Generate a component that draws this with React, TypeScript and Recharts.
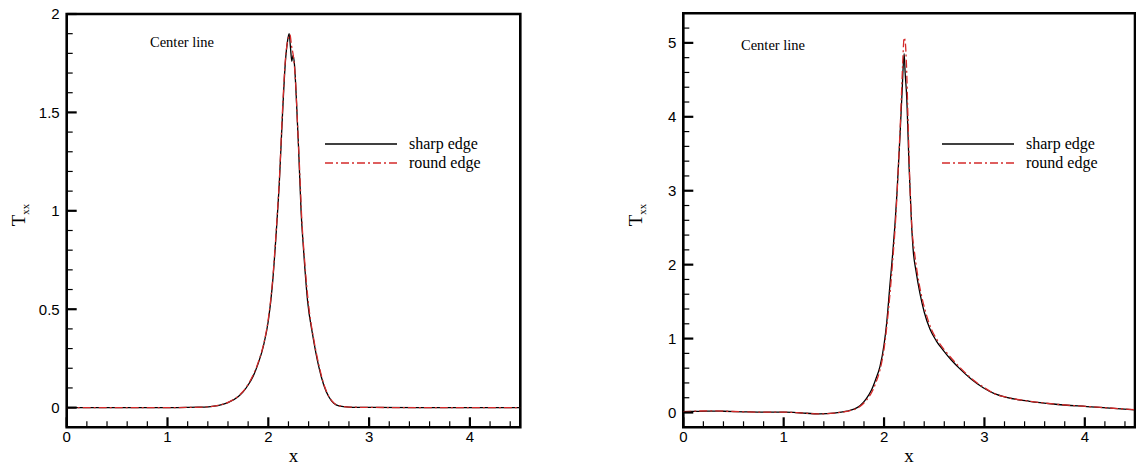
import React from 'react';
import { LineChart, Line, XAxis, YAxis, ReferenceArea, Legend } from 'recharts';

// ---------- data ----------
const leftSharpX = [0, 0.5, 1.0, 1.2, 1.3, 1.4, 1.5, 1.6, 1.7, 1.75, 1.8, 1.85, 1.9, 1.95, 2.0, 2.04, 2.08, 2.11, 2.14, 2.17, 2.19, 2.207, 2.22, 2.233, 2.245, 2.26, 2.28, 2.3, 2.325, 2.35, 2.39, 2.44, 2.5, 2.55, 2.6, 2.65, 2.7, 2.8, 3.0, 3.5, 4.0, 4.5];
const leftSharpY = [0, 0, 0, 0.001, 0.002, 0.004, 0.01, 0.025, 0.055, 0.08, 0.115, 0.16, 0.225, 0.31, 0.44, 0.62, 0.9, 1.15, 1.48, 1.76, 1.86, 1.9, 1.83, 1.76, 1.79, 1.74, 1.55, 1.32, 1.0, 0.8, 0.54, 0.37, 0.21, 0.115, 0.055, 0.022, 0.009, 0.003, 0.001, 0, 0, 0];

const leftRoundX = [0, 0.5, 1.0, 1.2, 1.4, 1.5, 1.6, 1.7, 1.8, 1.9, 1.95, 2.0, 2.04, 2.08, 2.11, 2.14, 2.17, 2.2, 2.215, 2.23, 2.25, 2.27, 2.29, 2.31, 2.33, 2.36, 2.4, 2.45, 2.5, 2.55, 2.6, 2.65, 2.7, 2.8, 3.0, 3.5, 4.0, 4.5];
const leftRoundY = [0, 0, 0, 0.001, 0.004, 0.011, 0.027, 0.057, 0.118, 0.23, 0.315, 0.45, 0.63, 0.91, 1.16, 1.5, 1.77, 1.88, 1.895, 1.84, 1.78, 1.66, 1.44, 1.22, 0.98, 0.75, 0.52, 0.35, 0.22, 0.12, 0.058, 0.024, 0.01, 0.003, 0.001, 0, 0, 0];

const rightSharpX = [0, 0.1, 0.25, 0.4, 0.6, 0.8, 1.0, 1.1, 1.2, 1.36, 1.5, 1.63, 1.7, 1.76, 1.82, 1.876, 1.92, 1.959, 2.0, 2.026, 2.06, 2.086, 2.109, 2.13, 2.159, 2.18, 2.2, 2.21, 2.225, 2.25, 2.275, 2.29, 2.32, 2.357, 2.4, 2.457, 2.52, 2.59, 2.67, 2.756, 2.87, 2.988, 3.1, 3.22, 3.45, 3.685, 4.02, 4.25, 4.5];
const rightSharpY = [0.01, 0.015, 0.02, 0.017, 0.01, 0.004, 0.006, 0.002, -0.008, -0.018, -0.008, 0.019, 0.045, 0.09, 0.18, 0.307, 0.46, 0.62, 0.92, 1.21, 1.75, 2.15, 2.55, 3.0, 3.75, 4.35, 4.854, 4.6, 4.28, 3.3, 2.52, 2.2, 1.9, 1.615, 1.36, 1.13, 0.97, 0.84, 0.71, 0.59, 0.45, 0.335, 0.255, 0.205, 0.152, 0.115, 0.081, 0.06, 0.037];

const rightRoundX = [0, 0.25, 0.5, 0.75, 1.0, 1.2, 1.36, 1.5, 1.63, 1.7, 1.76, 1.82, 1.876, 1.92, 1.96, 2.0, 2.03, 2.06, 2.09, 2.115, 2.14, 2.165, 2.185, 2.2, 2.212, 2.222, 2.24, 2.26, 2.28, 2.3, 2.33, 2.37, 2.41, 2.47, 2.53, 2.6, 2.68, 2.77, 2.88, 3.0, 3.1, 3.22, 3.45, 3.685, 4.02, 4.25, 4.5];
const rightRoundY = [0.012, 0.022, 0.014, 0.005, 0.006, -0.009, -0.019, -0.009, 0.016, 0.04, 0.08, 0.16, 0.27, 0.41, 0.58, 0.86, 1.2, 1.62, 2.12, 2.6, 3.25, 4.0, 4.7, 5.07, 5.0, 4.75, 3.9, 3.0, 2.45, 2.2, 1.9, 1.6, 1.38, 1.13, 0.98, 0.85, 0.72, 0.59, 0.45, 0.335, 0.256, 0.206, 0.153, 0.116, 0.082, 0.061, 0.038];

const xTicks = Array.from({ length: 23 }, (_, i) => Math.round(i * 2) / 10); // 0..4.4 step 0.2
const leftYTicks = Array.from({ length: 21 }, (_, i) => i / 10); // 0..2 step 0.1
const rightYTicks = Array.from({ length: 28 }, (_, i) => Math.round(i * 2) / 10); // 0..5.4 step 0.2

const seriesNames = ['sharp edge', 'round edge'];
const annotationText = 'Center line';

const toPts = (xs: number[], ys: number[]) => xs.map((x, i) => ({ x, y: ys[i] }));

const SANS = '"Liberation Sans", Arial, sans-serif';
const SERIF = '"Liberation Serif", "Times New Roman", serif';
const RED = '#d42a2a';
const DASH = '8 3 2 3';

const isMult = (v: number, step: number) => Math.abs(v / step - Math.round(v / step)) < 1e-6;

const makeXTick = () => (props: any) => {
  const { x, y, payload } = props;
  const v = payload.value;
  const major = isMult(v, 1);
  return (
    <g>
      <line x1={x} x2={x} y1={y} y2={y - (major ? 10 : 6)} stroke="#000" strokeWidth={major ? 2.2 : 1.2} />
      {major && (
        <text x={x} y={y + 15} textAnchor="middle" fontFamily={SANS} fontSize={15} fill="#000">
          {String(v)}
        </text>
      )}
    </g>
  );
};

const makeYTick = (step: number) => (props: any) => {
  const { x, y, payload } = props;
  const v = payload.value;
  const major = isMult(v, step);
  return (
    <g>
      <line x1={x} x2={x + (major ? 10 : 6)} y1={y} y2={y} stroke="#000" strokeWidth={major ? 2.2 : 1.2} />
      {major && (
        <text x={x - 7} y={y} dy="0.36em" textAnchor="end" fontFamily={SANS} fontSize={15} fill="#000">
          {String(v)}
        </text>
      )}
    </g>
  );
};

type PanelProps = {
  left: number;
  sharp: { x: number; y: number }[];
  round: { x: number; y: number }[];
  yDomain: [number, number];
  yTicks: number[];
  yMajor: number;
  margin: { top: number; right: number; bottom: number; left: number };
  ann: { cx: number; cy: number; lx: number; ly: number; tx: number; plotCx: number };
};

const W = 568;
const H = 465;

const Panel = ({ left, sharp, round, yDomain, yTicks, yMajor, margin, ann }: PanelProps) => {
  const renderAnn = () => (
    <svg width={W} height={H} style={{ position: 'absolute', left: 0, top: 0, overflow: 'visible' }}>
      <text x={ann.cx} y={ann.cy} fontFamily={SERIF} fontSize={14.5} fill="#000">{annotationText}</text>
      <line x1={ann.lx} x2={ann.lx + 72} y1={ann.ly} y2={ann.ly} stroke="#000" strokeWidth={1.3} />
      <text x={ann.tx} y={ann.ly + 5} fontFamily={SERIF} fontSize={16} fill="#000">{seriesNames[0]}</text>
      <line x1={ann.lx} x2={ann.lx + 72} y1={ann.ly + 19} y2={ann.ly + 19} stroke={RED} strokeWidth={1.3} strokeDasharray={DASH} />
      <text x={ann.tx} y={ann.ly + 24} fontFamily={SERIF} fontSize={16} fill="#000">{seriesNames[1]}</text>
      <text x={ann.plotCx} y={462} textAnchor="middle" fontFamily={SERIF} fontSize={19} fill="#000">x</text>
    </svg>
  );
  const yLabel = (lx: number) => (props: any) => (
    <text x={lx} y={215} transform={`rotate(-90, ${lx}, 215)`} textAnchor="middle" fontFamily={SERIF} fontSize={19} fill="#000">
      T<tspan fontSize={11} dy={4}>xx</tspan>
    </text>
  );
  return (
    <div style={{ position: 'absolute', left, top: 0, width: W, height: H }}>
      <LineChart width={W} height={H} margin={margin}>
        <XAxis
          type="number"
          dataKey="x"
          domain={[0, 4.5]}
          allowDataOverflow
          ticks={xTicks}
          interval={0}
          tickSize={0}
          tickMargin={0}
          axisLine={false}
          tickLine={false}
          tick={makeXTick()}
          height={30}
        />
        <YAxis
          type="number"
          dataKey="y"
          domain={yDomain}
          allowDataOverflow
          ticks={yTicks}
          interval={0}
          tickSize={0}
          tickMargin={0}
          axisLine={false}
          tickLine={false}
          tick={makeYTick(yMajor)}
          width={60}
          label={{ content: yLabel(left === 0 ? 25 : 74) }}
        />
        <ReferenceArea
          x1={0}
          x2={4.5}
          y1={yDomain[0]}
          y2={yDomain[1]}
          fill="none"
          fillOpacity={0}
          stroke="#000"
          strokeWidth={2.6}
          ifOverflow="visible"
        />
        <Line
          data={sharp}
          dataKey="y"
          name={seriesNames[0]}
          type="monotone"
          stroke="#000"
          strokeWidth={1.3}
          dot={false}
          isAnimationActive={false}
        />
        <Line
          data={round}
          dataKey="y"
          name={seriesNames[1]}
          type="monotone"
          stroke={RED}
          strokeWidth={1.3}
          strokeDasharray={DASH}
          dot={false}
          isAnimationActive={false}
        />
        <Legend
          layout="vertical"
          align="center"
          verticalAlign="middle"
          wrapperStyle={{ position: 'absolute', left: 0, top: 0, width: W, height: H, pointerEvents: 'none' }}
          content={renderAnn}
        />
      </LineChart>
    </div>
  );
};

export default function App() {
  return (
    <div style={{ position: 'absolute', left: 0, top: 0, width: 1136, height: 465, background: '#fff' }}>
      <Panel
        left={0}
        sharp={toPts(leftSharpX, leftSharpY)}
        round={toPts(leftRoundX, leftRoundY)}
        yDomain={[-0.1, 2]}
        yTicks={leftYTicks}
        yMajor={0.5}
        margin={{ top: 14, right: 47.7, bottom: 7.7, left: 6.7 }}
        ann={{ cx: 150, cy: 47, lx: 325, ly: 144, tx: 409, plotCx: 293.5 }}
      />
      <Panel
        left={568}
        sharp={toPts(rightSharpX, rightSharpY)}
        round={toPts(rightRoundX, rightRoundY)}
        yDomain={[-0.2, 5.4]}
        yTicks={rightYTicks}
        yMajor={1}
        margin={{ top: 13.3, right: 1, bottom: 7.7, left: 55.3 }}
        ann={{ cx: 173, cy: 50, lx: 374, ly: 144, tx: 458, plotCx: 341 }}
      />
    </div>
  );
}
